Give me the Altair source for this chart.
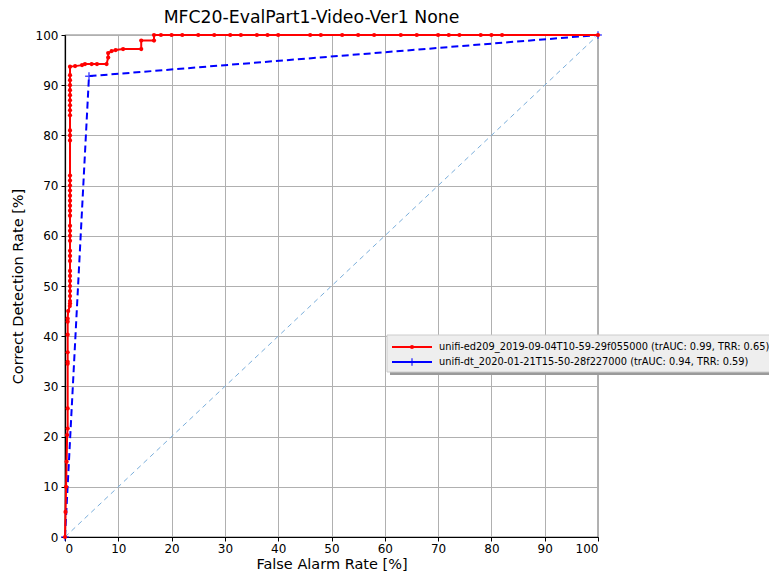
import altair as alt
import pandas as pd

# ---- data ----
red_fa = [0, 0.1, 0.2, 0.3, 0.4, 0.5, 0.5, 0.5, 0.5, 0.5, 0.5, 0.5, 0.5, 0.6, 0.9,
          0.94, 0.94, 0.94, 0.94, 0.94, 0.94, 0.94, 0.94, 0.94, 0.94, 0.94, 0.94, 0.94,
          0.94, 0.94, 0.94, 0.94, 0.94, 0.94, 0.94, 0.94, 0.94, 0.94, 0.94, 0.94, 0.94,
          0.94, 0.94, 0.94, 0.94, 0.94, 0.94, 0.94, 0.94, 0.94, 0.94, 0.94,
          1.9, 3.2, 3.75, 5.0, 6.0, 7.8, 8.1, 8.1, 8.75, 9.5, 10.9, 14.3, 14.3, 16.7, 16.7,
          18, 20, 22, 25, 28, 31, 33, 36, 38, 40, 46, 48, 52, 55, 58, 63, 66, 70, 72, 74,
          78, 80, 82, 100]
red_cd = [0, 5, 10, 15, 20.3, 21.6, 25.6, 34.5, 34.9, 36.8, 40.3, 42.9, 43.5, 45, 46,
          46.5, 47, 48, 49, 50, 51, 52, 53, 55, 56, 57, 59, 60, 61, 62, 64, 65, 66, 67,
          68, 69, 70, 71, 72, 79, 80, 81, 84, 85, 86, 87, 88, 89, 90, 91, 92, 93.7,
          93.8, 94.0, 94.2, 94.2, 94.2, 94.2, 95.5, 96.4, 96.8, 97.0, 97.2, 97.2, 98.9, 98.9, 100,
          100, 100, 100, 100, 100, 100, 100, 100, 100, 100, 100, 100, 100, 100, 100, 100, 100,
          100, 100, 100, 100, 100, 100, 100]
blue_fa = [0, 4.5, 100]
blue_cd = [0, 91.8, 100]
diag_x = [0, 100]
diag_y = [0, 100]
legend_labels = ["unifi-ed209_2019-09-04T10-59-29f055000 (trAUC: 0.99, TRR: 0.65)",
                 "unifi-dt_2020-01-21T15-50-28f227000 (trAUC: 0.94, TRR: 0.59)"]
legend_colors = ["#ff0000", "#0000ff"]
ticks = list(range(0, 101, 10))

red = pd.DataFrame({"fa": red_fa, "cd": red_cd, "i": range(len(red_fa))})
blue = pd.DataFrame({"fa": blue_fa, "cd": blue_cd, "i": range(len(blue_fa))})
diag = pd.DataFrame({"fa": diag_x, "cd": diag_y})
leg = pd.DataFrame({"label": legend_labels, "color": legend_colors, "row": [0, 1]})

FONT = "DejaVu Sans"
H = 502
xs = alt.Scale(domain=[0, 100], nice=False)
ys = alt.Scale(domain=[0, 100], nice=False)
xax = alt.Axis(values=ticks, title="False Alarm Rate [%]", grid=True)
yax = alt.Axis(values=ticks, title="Correct Detection Rate [%]", grid=True)

X = alt.X("fa:Q", scale=xs, axis=xax)
Y = alt.Y("cd:Q", scale=ys, axis=yax)

diag_l = alt.Chart(diag).mark_line(color="#7aaedb", strokeDash=[5, 4], strokeWidth=1).encode(x=X, y=Y)

blue_l = alt.Chart(blue).mark_line(color="#0000ff", strokeDash=[7, 4], strokeWidth=2).encode(
    x=X, y=Y, order="i:Q")
blue_p = alt.Chart(blue).mark_point(shape="M-1,0H1M0,-1V1", size=60, filled=False,
                                    color="#0000ff", strokeWidth=1.5).encode(x=X, y=Y)

red_l = alt.Chart(red).mark_line(color="#ff0000", strokeWidth=2).encode(x=X, y=Y, order="i:Q")
red_p = alt.Chart(red).mark_circle(color="#ff0000", size=18, opacity=1).encode(x=X, y=Y)

# ---- custom legend (matplotlib style, extends beyond plot) ----
bx0, by0 = 322, 300
row0 = alt.Chart(leg).transform_filter("datum.row == 0")
row1 = alt.Chart(leg).transform_filter("datum.row == 1")
shadow = row0.mark_rect(color="#9a9a9a").encode(
    x=alt.value(bx0 + 3), x2=alt.value(bx0 + 460), y=alt.value(by0 + 3), y2=alt.value(by0 + 40))
box = row0.mark_rect(color="#eeeeee", stroke="#cccccc", strokeWidth=1).encode(
    x=alt.value(bx0), x2=alt.value(bx0 + 457), y=alt.value(by0), y2=alt.value(by0 + 37))
leg_line0 = row0.mark_rule(color="#ff0000", strokeWidth=2).encode(
    x=alt.value(bx0 + 5), x2=alt.value(bx0 + 45), y=alt.value(by0 + 12))
leg_dot0 = row0.mark_circle(color="#ff0000", size=18, opacity=1).encode(
    x=alt.value(bx0 + 25), y=alt.value(by0 + 12))
leg_line1 = row1.mark_rule(color="#0000ff", strokeWidth=2).encode(
    x=alt.value(bx0 + 5), x2=alt.value(bx0 + 45), y=alt.value(by0 + 27))
leg_plus1 = row1.mark_point(shape="M-1,0H1M0,-1V1", size=60, filled=False, color="#0000ff",
                            strokeWidth=1.5).encode(x=alt.value(bx0 + 25), y=alt.value(by0 + 27))
text_kw = dict(align="left", baseline="middle", font=FONT, fontSize=9.8, color="black")
leg_text0 = row0.mark_text(**text_kw).encode(x=alt.value(bx0 + 52), y=alt.value(by0 + 12), text="label:N")
leg_text1 = row1.mark_text(**text_kw).encode(x=alt.value(bx0 + 52), y=alt.value(by0 + 27), text="label:N")

chart = alt.layer(diag_l, blue_l, blue_p, red_l, red_p,
                  shadow, box, leg_line0, leg_dot0, leg_line1, leg_plus1,
                  leg_text0, leg_text1).properties(
    width=533, height=H,
    title=alt.TitleParams("MFC20-EvalPart1-Video-Ver1 None", font=FONT, fontSize=17.3,
                          fontWeight="normal", color="black", dx=-20, offset=2),
    autosize=alt.AutoSizeParams(type="none"),
    padding={"left": 57, "top": 27, "right": 171, "bottom": 37},
).configure_view(stroke="black", strokeWidth=1.2).configure_axis(
    labelFont=FONT, labelFontSize=12, labelColor="black", titleFont=FONT, titleFontSize=14.5,
    titleFontWeight="normal", titleColor="black", gridColor="#b0b0b0", gridWidth=1,
    domainColor="black", domainWidth=1.2, tickColor="black", tickSize=4, labelPadding=2,
).configure_axisX(titlePadding=3).configure_axisY(titlePadding=10, labelPadding=3)

chart.save("out.html", embed_options={"renderer": "svg", "actions": False})
